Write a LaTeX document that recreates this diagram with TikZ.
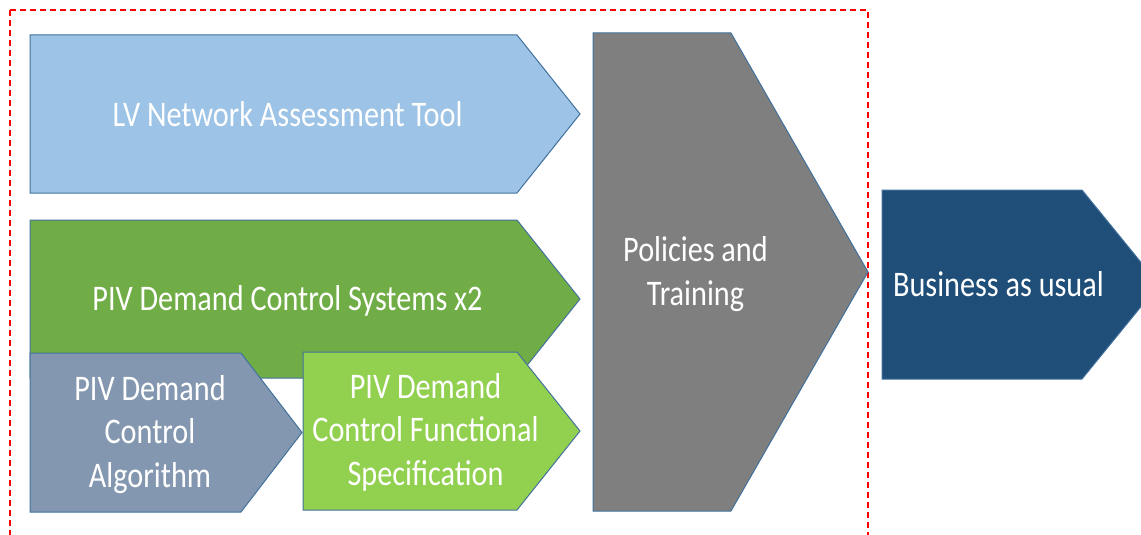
\documentclass[tikz,border=0pt]{standalone}
\usepackage{fontspec}
\setmainfont{Carlito}[FakeStretch=0.84]
\usepackage{xcolor}
\definecolor{lvblue}{HTML}{9DC3E6}
\definecolor{sysgreen}{HTML}{70AD47}
\definecolor{alggrey}{HTML}{8497B0}
\definecolor{specgreen}{HTML}{92D050}
\definecolor{polgrey}{HTML}{7F7F7F}
\definecolor{baublue}{HTML}{1F4E79}
\definecolor{edgeblue}{HTML}{41719C}

% pentagon arrow: left, top, body end, tip, bottom
\newcommand{\chevpath}[5]{(#1,#2) -- (#3,#2) -- (#4,{(#2+#5)/2}) -- (#3,#5) -- (#1,#5) -- cycle}

\tikzset{
  chevron/.style={draw=edgeblue, line width=1pt, line join=miter},
  chevtext/.style={text=white, font=\fontsize{36}{43.5}\selectfont,
    align=center, inner sep=0pt, anchor=base},
}

\begin{document}
\begin{tikzpicture}[x=1pt, y=-1pt]
\useasboundingbox (0,0) rectangle (1141,535);
\clip (0,0) rectangle (1141,535);

% project scope
\draw[red, line width=1.3pt, dash pattern=on 6pt off 4pt] (10,10) rectangle (868,560);

% the tools
\fill[lvblue, chevron] \chevpath{30}{35}{517}{580}{193};
\fill[sysgreen, chevron] \chevpath{30}{220}{517}{580}{378};
\fill[alggrey, chevron] \chevpath{30}{353}{241}{302}{512};
\fill[specgreen, chevron] \chevpath{303}{352}{517}{580}{510};

% base anchor sits on the last line
\node[chevtext] (lvtext) at (287.5,126) {LV Network Assessment Tool};
\node[chevtext] (systext) at (287.5,310) {PIV Demand Control Systems x2};
\node[chevtext] (algtext) at (150,487) {PIV Demand\\Control\\Algorithm};
\node[chevtext] (spectext) at (425.5,485) {PIV Demand\\Control Functional\\Specification};

% policies, then business as usual
\fill[polgrey, chevron] \chevpath{593}{33}{731}{868}{511};
\node[chevtext] (poltext) at (695.5,305) {Policies and\\Training};

\fill[baublue, chevron] \chevpath{882}{190}{1082}{1159}{379};
\node[chevtext] (bautext) at (998.5,296) {Business as usual};
\end{tikzpicture}
\end{document}
